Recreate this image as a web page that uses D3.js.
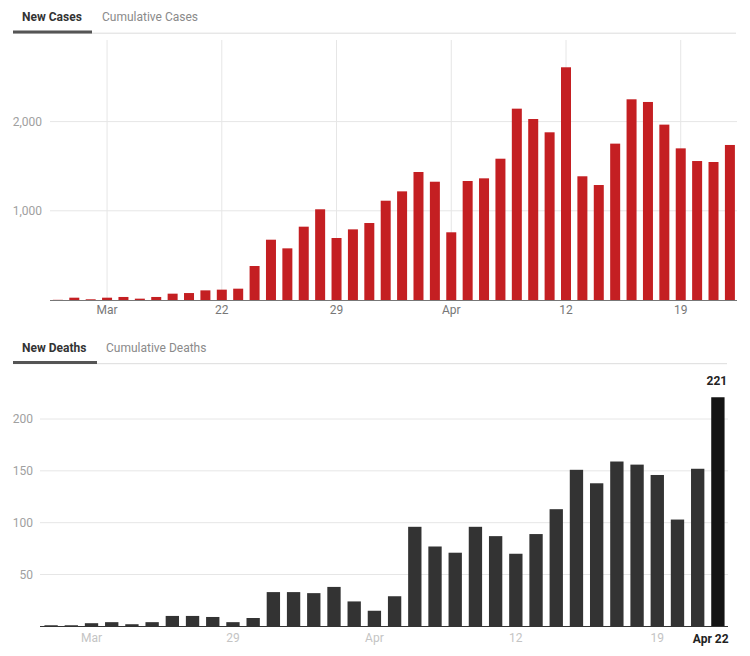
<!DOCTYPE html>
<html>
<head>
<meta charset="utf-8">
<script src="https://cdn.jsdelivr.net/npm/d3@7"></script>
<style>
  html, body { margin: 0; padding: 0; background: #fff; }
  svg { display: block; font-family: Roboto, "Noto Sans", Arial, sans-serif; }
</style>
</head>
<body>
<svg id="chart" width="750" height="656"></svg>
<script>
// ---------- DATA ----------
const caseDays = ["Mar 12","Mar 13","Mar 14","Mar 15","Mar 16","Mar 17","Mar 18","Mar 19","Mar 20","Mar 21",
  "Mar 22","Mar 23","Mar 24","Mar 25","Mar 26","Mar 27","Mar 28","Mar 29","Mar 30","Mar 31",
  "Apr 1","Apr 2","Apr 3","Apr 4","Apr 5","Apr 6","Apr 7","Apr 8","Apr 9","Apr 10",
  "Apr 11","Apr 12","Apr 13","Apr 14","Apr 15","Apr 16","Apr 17","Apr 18","Apr 19","Apr 20",
  "Apr 21","Apr 22"];
const newCases = [2, 26, 8, 26, 34, 15, 34, 71, 78, 108,
  116, 127, 381, 676, 579, 822, 1017, 695, 792, 863,
  1113, 1218, 1435, 1326, 759, 1334, 1364, 1584, 2145, 2029,
  1880, 2609, 1387, 1289, 1753, 2250, 2220, 1966, 1700, 1558,
  1547, 1738];
const caseTickDays = ["Mar 15","Mar 22","Mar 29","Apr 5","Apr 12","Apr 19"];
const caseTickLabels = ["Mar","22","29","Apr","12","19"];
const caseYTicks = [1000, 2000];

const deathDays = ["Mar 20","Mar 21","Mar 22","Mar 23","Mar 24","Mar 25","Mar 26","Mar 27","Mar 28","Mar 29",
  "Mar 30","Mar 31","Apr 1","Apr 2","Apr 3","Apr 4","Apr 5","Apr 6","Apr 7","Apr 8",
  "Apr 9","Apr 10","Apr 11","Apr 12","Apr 13","Apr 14","Apr 15","Apr 16","Apr 17","Apr 18",
  "Apr 19","Apr 20","Apr 21","Apr 22"];
const newDeaths = [1, 1, 3, 4, 2, 4, 10, 10, 9, 4,
  8, 33, 33, 32, 38, 24, 15, 29, 96, 77,
  71, 96, 87, 70, 89, 113, 151, 138, 159, 156,
  146, 103, 152, 221];
const deathTickDays = ["Mar 22","Mar 29","Apr 5","Apr 12","Apr 19"];
const deathTickLabels = ["Mar","29","Apr","12","19"];
const deathYTicks = [50, 100, 150, 200];
const lastLabel = "Apr 22";

const tabs1 = ["New Cases", "Cumulative Cases"];
const tabs2 = ["New Deaths", "Cumulative Deaths"];

// ---------- DRAW ----------
const svg = d3.select("#chart");

function drawTabs(g, labels, y, activeW, lineEnd, xs) {
  g.append("line").attr("x1", 13).attr("x2", lineEnd)
    .attr("y1", y + 12.2).attr("y2", y + 12.2)
    .attr("stroke", "#dcdcdc").attr("stroke-width", 1);
  g.append("rect").attr("x", 13).attr("y", y + 9.5).attr("width", activeW).attr("height", 3)
    .attr("fill", "#555");
  g.append("text").attr("x", xs[0]).attr("y", y).text(labels[0])
    .attr("font-size", 12).attr("font-weight", "bold").attr("fill", "#333");
  g.append("text").attr("x", xs[1]).attr("y", y).text(labels[1])
    .attr("font-size", 12).attr("fill", "#8a8a8a");
}

drawTabs(svg.append("g"), tabs1, 21, 79, 736, [22, 102]);
drawTabs(svg.append("g"), tabs2, 351.5, 84, 727, [22, 106]);

// ----- Top chart: New Cases -----
const x1 = d3.scaleBand().domain(caseDays).range([49.7, 738.1]).paddingInner(0.39).paddingOuter(0.195);
const y1 = d3.scaleLinear().domain([0, 3000]).range([300, 32.4]);
const gTop = svg.append("g");

gTop.append("g").selectAll("line").data(caseTickDays).join("line")
  .attr("x1", d => x1(d) + x1.bandwidth() / 2).attr("x2", d => x1(d) + x1.bandwidth() / 2)
  .attr("y1", 40).attr("y2", 300).attr("stroke", "#e6e6e6");
gTop.append("g").selectAll("line").data(caseYTicks).join("line")
  .attr("x1", 50).attr("x2", 737).attr("y1", d => y1(d)).attr("y2", d => y1(d))
  .attr("stroke", "#e6e6e6");
gTop.append("g").selectAll("text").data(caseYTicks).join("text")
  .attr("x", 42).attr("y", d => y1(d)).attr("dy", "0.35em").attr("text-anchor", "end")
  .attr("font-size", 12).attr("fill", "#a0a0a0").text(d3.format(","));
gTop.append("g").selectAll("rect").data(newCases).join("rect")
  .attr("x", (d, i) => x1(caseDays[i])).attr("width", x1.bandwidth())
  .attr("y", d => y1(d)).attr("height", d => y1(0) - y1(d))
  .attr("fill", "#c41f22");
gTop.append("line").attr("x1", 50).attr("x2", 737).attr("y1", 300.5).attr("y2", 300.5)
  .attr("stroke", "#777").attr("stroke-width", 1);
const ax1 = d3.axisBottom(x1).tickValues(caseTickDays).tickSize(0).tickPadding(0)
  .tickFormat(d => caseTickLabels[caseTickDays.indexOf(d)]);
const gx1 = gTop.append("g").attr("transform", "translate(0,305)").call(ax1);
gx1.select(".domain").remove();
gx1.selectAll("text").attr("font-size", 12).attr("fill", "#777")
  .attr("font-family", "Roboto, 'Noto Sans', sans-serif").attr("dy", "0.71em");

// ----- Bottom chart: New Deaths -----
const x2 = d3.scaleBand().domain(deathDays).range([41, 728]).paddingInner(0.34).paddingOuter(0.17);
const y2 = d3.scaleLinear().domain([0, 250]).range([626.3, 367.2]);
const gBot = svg.append("g");

gBot.append("g").selectAll("line").data(deathYTicks).join("line")
  .attr("x1", 40).attr("x2", 728).attr("y1", d => y2(d)).attr("y2", d => y2(d))
  .attr("stroke", "#e6e6e6");
gBot.append("g").selectAll("text").data(deathYTicks).join("text")
  .attr("x", 33).attr("y", d => y2(d)).attr("dy", "0.35em").attr("text-anchor", "end")
  .attr("font-size", 12).attr("fill", "#a0a0a0").text(d => d);
gBot.append("g").selectAll("rect").data(newDeaths).join("rect")
  .attr("x", (d, i) => x2(deathDays[i])).attr("width", x2.bandwidth())
  .attr("y", d => y2(d)).attr("height", d => y2(0) - y2(d))
  .attr("fill", (d, i) => i === newDeaths.length - 1 ? "#141414" : "#333");
gBot.append("line").attr("x1", 40).attr("x2", 728).attr("y1", 626.5).attr("y2", 626.5)
  .attr("stroke", "#333").attr("stroke-width", 1);

const ax2 = d3.axisBottom(x2).tickValues(deathTickDays).tickSize(0).tickPadding(0)
  .tickFormat(d => deathTickLabels[deathTickDays.indexOf(d)]);
const gx2 = gBot.append("g").attr("transform", "translate(0,633)").call(ax2);
gx2.select(".domain").remove();
gx2.selectAll("text").attr("font-size", 12).attr("fill", "#c4c4c4")
  .attr("font-family", "Roboto, 'Noto Sans', sans-serif").attr("dy", "0.71em");

const lastDay = deathDays[deathDays.length - 1];
const lastVal = newDeaths[newDeaths.length - 1];
gBot.append("text").attr("x", x2(lastDay) + x2.bandwidth() + 4).attr("y", 643)
  .attr("text-anchor", "end").attr("font-size", 12).attr("font-weight", "bold")
  .attr("fill", "#222").text(lastLabel);
gBot.append("text").attr("x", x2(lastDay) + x2.bandwidth() / 2 - 1).attr("y", y2(lastVal) - 12)
  .attr("text-anchor", "middle").attr("font-size", 12).attr("font-weight", "bold")
  .attr("fill", "#222").text(lastVal);
</script>
</body>
</html>
